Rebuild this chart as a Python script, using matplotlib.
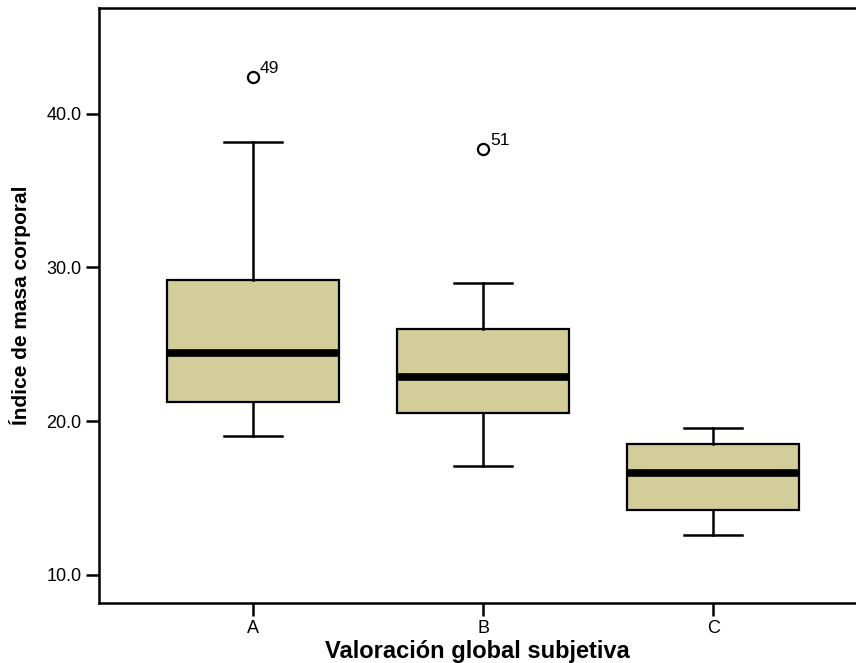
import matplotlib
matplotlib.use('Agg')
import matplotlib.pyplot as plt

# box statistics
groups = ['A', 'B', 'C']
whislo = [19.0, 17.1, 12.6]
q1 = [21.25, 20.55, 14.2]
med = [24.45, 22.9, 16.6]
q3 = [29.2, 26.0, 18.5]
whishi = [38.2, 29.0, 19.55]
outliers = [[42.4], [37.7], []]
outlier_ids = [['49'], ['51'], []]

plt.rcParams['font.family'] = ['Liberation Sans', 'DejaVu Sans']

fig = plt.figure(figsize=(8.56, 6.63), dpi=100)
ax = fig.add_axes([99 / 856, 60 / 663, 757 / 856, 595 / 663])

stats = []
for i in range(len(groups)):
    stats.append(dict(label=groups[i], whislo=whislo[i], q1=q1[i], med=med[i],
                      q3=q3[i], whishi=whishi[i], fliers=outliers[i]))

pos = [1, 2, 3]
ax.bxp(stats, positions=pos, widths=0.75, patch_artist=True, showfliers=True,
       boxprops=dict(facecolor='#d3cd99', edgecolor='black', linewidth=1.6),
       medianprops=dict(color='black', linewidth=5.5, solid_capstyle='butt'),
       whiskerprops=dict(color='black', linewidth=1.8),
       capprops=dict(color='black', linewidth=1.8),
       capwidths=0.25,
       flierprops=dict(marker='o', markerfacecolor='none', markeredgecolor='black',
                       markersize=8, markeredgewidth=1.6))

for i in range(len(groups)):
    for v, lab in zip(outliers[i], outlier_ids[i]):
        ax.annotate(lab, (pos[i], v), xytext=(5, 3), textcoords='offset points',
                    fontsize=12.5)

ax.set_xlim(0.33, 0.33 + 757 / 230)
ax.set_ylim(8.15, 46.9)
ax.set_yticks([10, 20, 30, 40])
ax.set_yticklabels(['10.0', '20.0', '30.0', '40.0'])
ax.spines['right'].set_visible(False)
for s in ['left', 'top', 'bottom']:
    ax.spines[s].set_linewidth(1.8)
ax.tick_params(axis='both', width=1.8, length=9.5, labelsize=13, pad=3)

ax.set_xlabel('Valoración global subjetiva', fontsize=17, fontweight='bold')
ax.xaxis.set_label_coords(0.5, -0.062)
ax.set_ylabel('Índice de masa corporal', fontsize=15, fontweight='bold')
ax.yaxis.set_label_coords(-0.09, 0.5)

fig.savefig('out.png', dpi=100)
